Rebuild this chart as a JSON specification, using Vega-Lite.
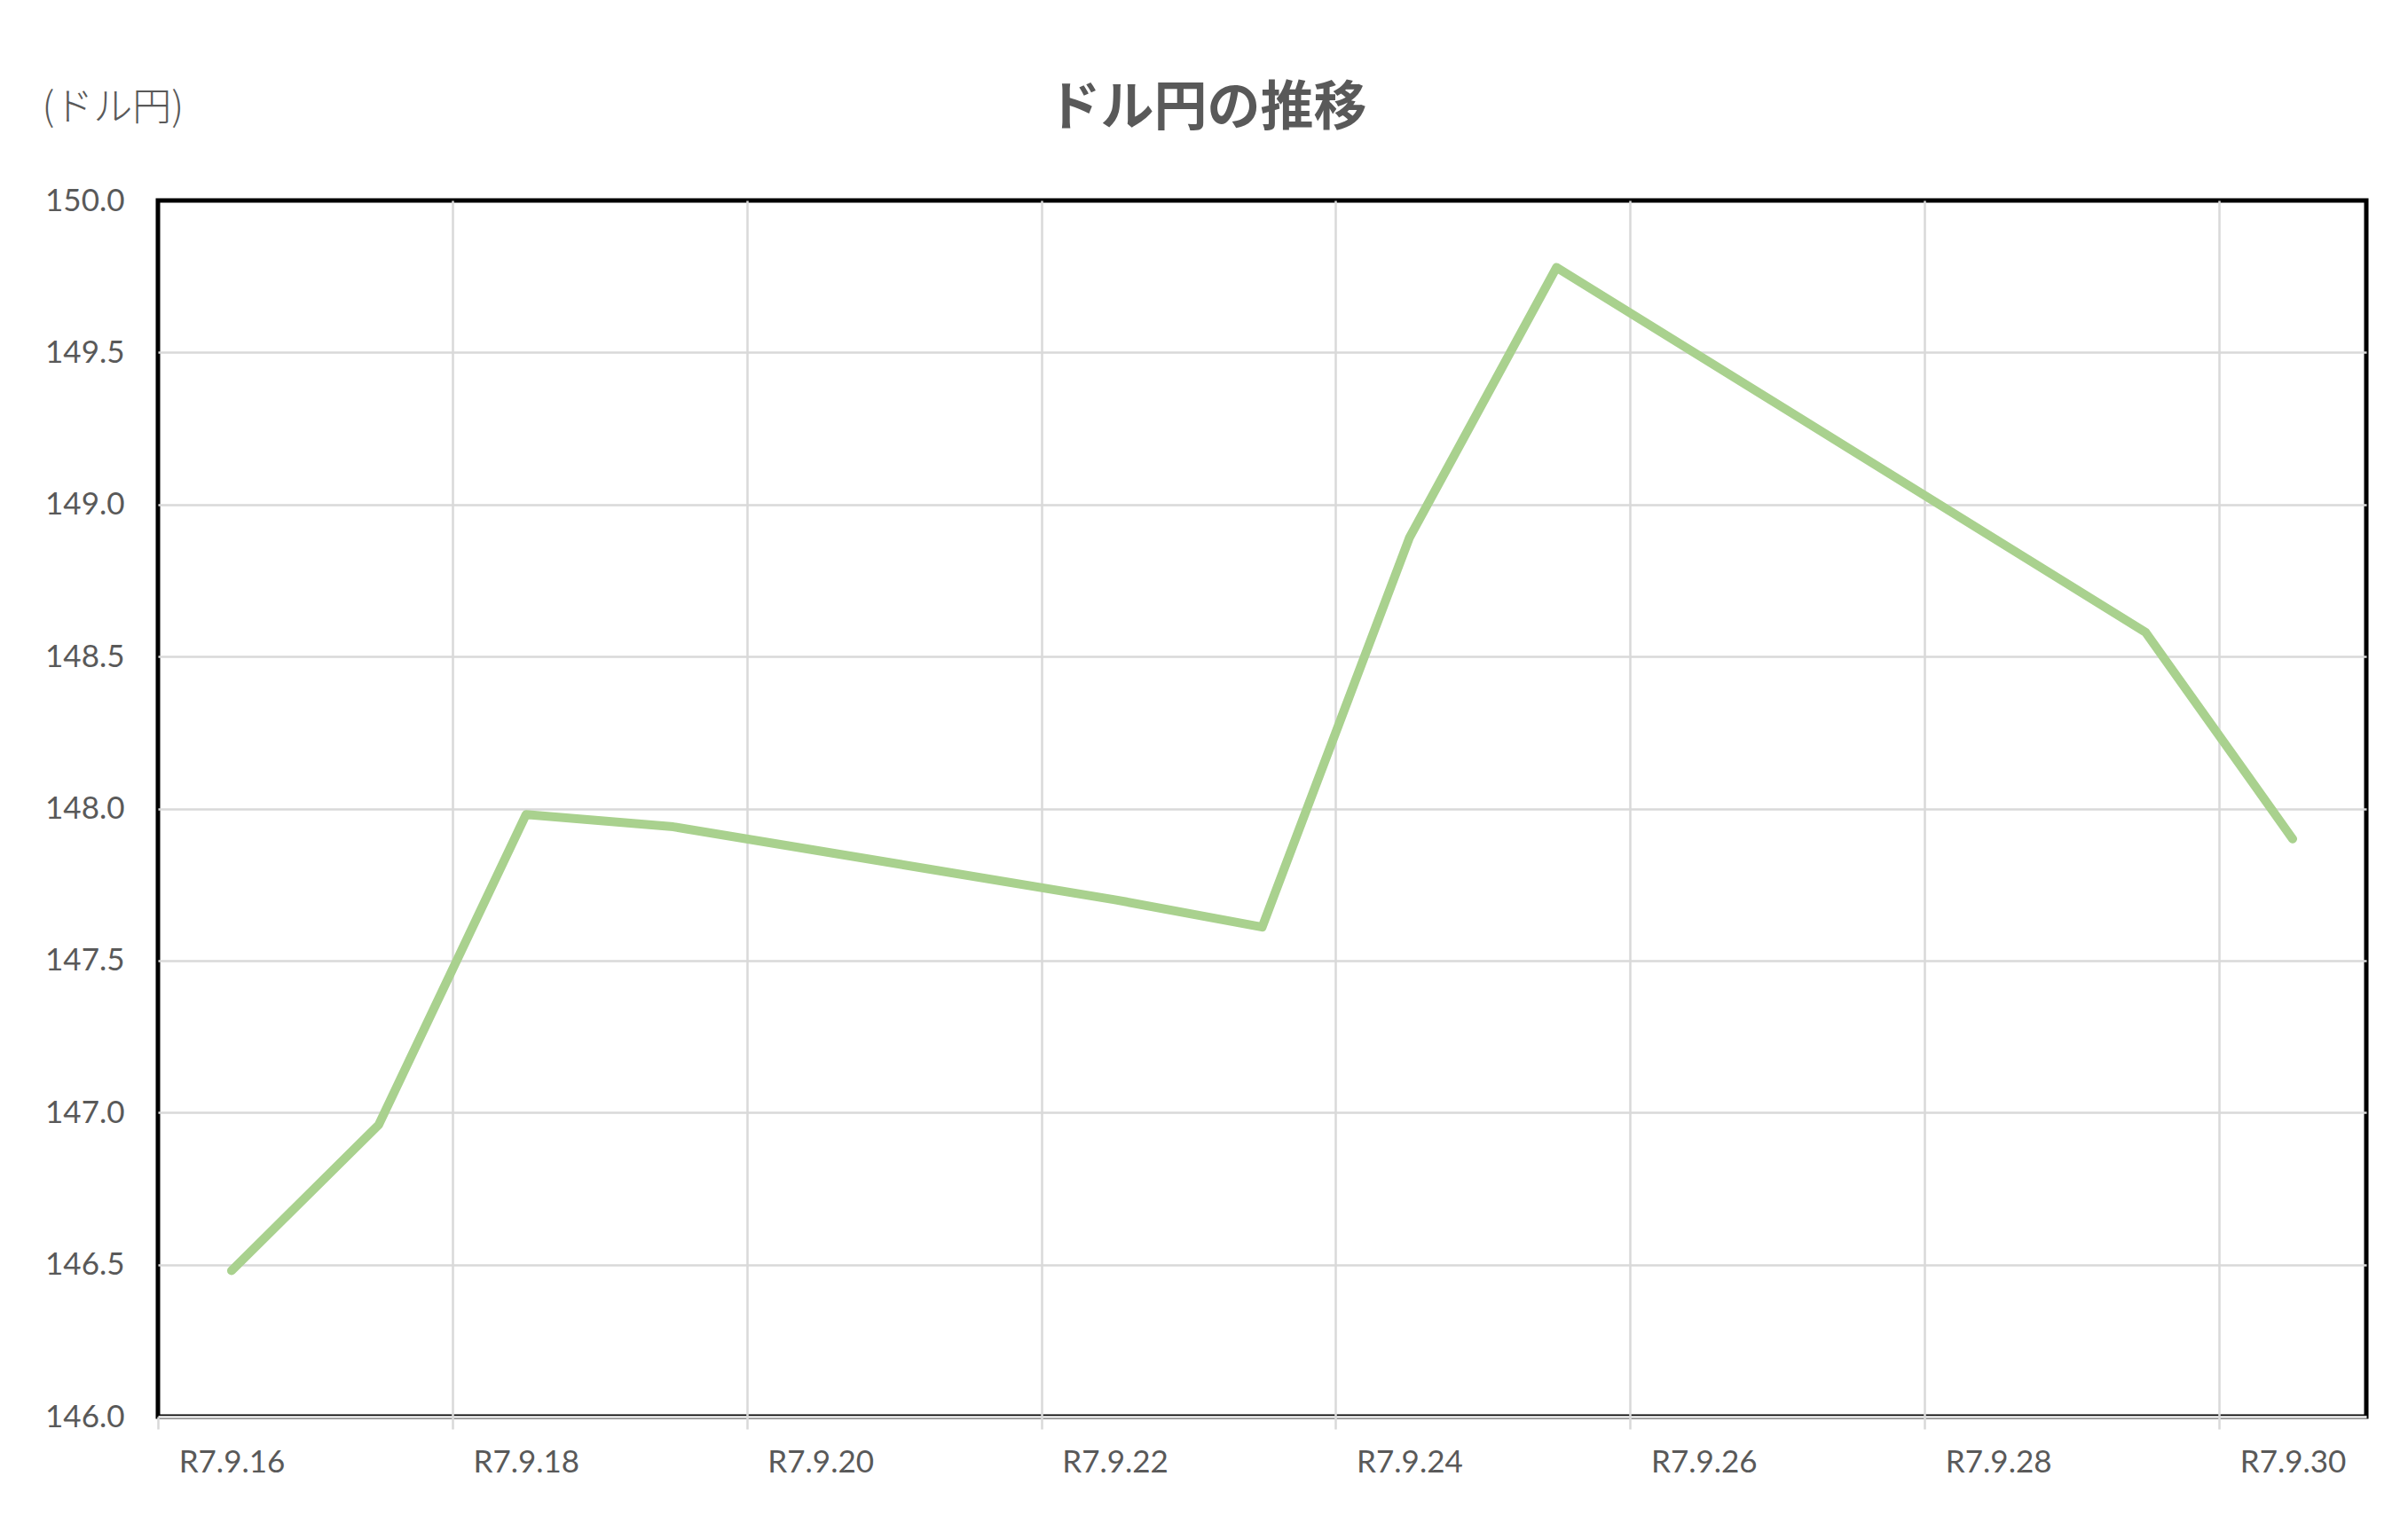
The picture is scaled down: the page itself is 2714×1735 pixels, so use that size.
{
  "$schema": "https://vega.github.io/schema/vega-lite/v6.json",
  "width": 2489,
  "height": 1371,
  "autosize": {"type": "none"},
  "padding": {"left": 178, "top": 226, "right": 47, "bottom": 138},
  "background": "white",
  "title": {
    "text": "ドル円の推移",
    "font": "Noto Sans CJK JP",
    "fontSize": 60,
    "fontWeight": "bold",
    "color": "#595959",
    "anchor": "middle",
    "dx": -62,
    "dy": 58
  },
  "data": {
    "values": [
      {"day": 16, "rate": 146.48},
      {"day": 17, "rate": 146.96},
      {"day": 18, "rate": 147.98},
      {"day": 19, "rate": 147.94},
      {"day": 22, "rate": 147.70},
      {"day": 23, "rate": 147.61},
      {"day": 24, "rate": 148.89},
      {"day": 25, "rate": 149.78},
      {"day": 29, "rate": 148.58},
      {"day": 30, "rate": 147.90}
    ]
  },
  "mark": {"type": "line", "color": "#A9D18E", "strokeWidth": 10, "strokeCap": "round", "strokeJoin": "round"},
  "encoding": {
    "x": {
      "field": "day",
      "type": "quantitative",
      "scale": {"domain": [15.5, 30.5], "nice": false, "zero": false},
      "axis": {
        "title": null,
        "values": [15.5, 16, 17.5, 18, 19.5, 20, 21.5, 22, 23.5, 24, 25.5, 26, 27.5, 28, 29.5, 30],
        "labelExpr": "datum.value % 1 == 0 ? 'R7.9.' + datum.value : ''",
        "labelOverlap": false,
        "labelFlush": false,
        "gridOpacity": {"condition": {"test": "datum.value % 1 != 0 && datum.value > 16", "value": 1}, "value": 0},
        "tickOpacity": {"condition": {"test": "datum.value % 1 != 0", "value": 1}, "value": 0},
        "tickSize": 14,
        "tickWidth": 2.5,
        "tickColor": "#d9d9d9",
        "domainColor": "#d9d9d9",
        "domainWidth": 3,
        "labelPadding": 20
      }
    },
    "y": {
      "field": "rate",
      "type": "quantitative",
      "scale": {"domain": [146, 150], "nice": false, "zero": false},
      "axis": {
        "values": [146, 146.5, 147, 147.5, 148, 148.5, 149, 149.5, 150],
        "format": ".1f",
        "ticks": false,
        "domain": false,
        "labelPadding": 38,
        "gridOpacity": {"condition": {"test": "datum.value > 146 && datum.value < 150", "value": 1}, "value": 0},
        "title": "(ドル円)",
        "titleAngle": 0,
        "titleAlign": "left",
        "titleBaseline": "middle",
        "titleX": -131,
        "titleY": -104,
        "titleFont": "Noto Sans CJK JP",
        "titleFontSize": 44,
        "titleFontWeight": 300,
        "titleColor": "#595959"
      }
    }
  },
  "config": {
    "view": {"stroke": "black", "strokeWidth": 5},
    "axis": {
      "gridColor": "#d9d9d9",
      "gridWidth": 2.5,
      "labelFont": "Lato",
      "labelFontSize": 35,
      "labelColor": "#595959"
    }
  }
}
